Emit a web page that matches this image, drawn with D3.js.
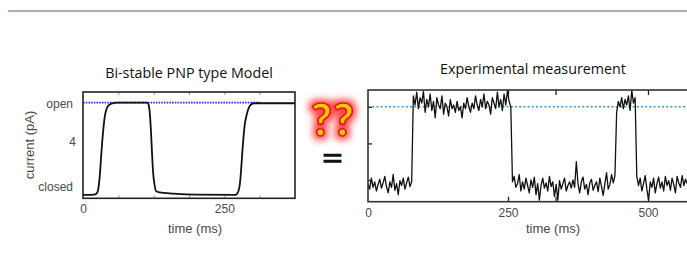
<!DOCTYPE html>
<html>
<head>
<meta charset="utf-8">
<script src="https://cdn.jsdelivr.net/npm/d3@7"></script>
<style>
  html, body { margin: 0; padding: 0; background: #fff; }
  svg { display: block; }
</style>
</head>
<body>
<svg id="chart" width="687" height="275"></svg>
<script>
// ---------------- DATA ----------------
// Left panel: bi-stable PNP model trace
const modelTime = [0, 20, 25, 28, 30, 32, 34, 36, 38, 40, 43, 47, 52, 60, 113, 116, 118, 120, 122, 124, 126, 129, 135, 160, 200, 270, 272, 276, 278, 280, 282, 284, 286, 289, 292, 296, 302, 310, 375];
const modelCurrent = [-0.15, -0.13, 0.0, 0.6, 1.5, 2.8, 4.0, 5.0, 5.8, 6.3, 6.7, 6.9, 7.0, 7.05, 7.05, 6.9, 6.3, 5.0, 3.2, 1.6, 0.8, 0.15, 0.05, -0.05, -0.13, -0.15, -0.1, 0.3, 0.9, 2.0, 3.3, 4.4, 5.3, 6.0, 6.5, 6.85, 7.0, 7.0, 7.0];
const modelOpenLevel = 7.05;
const modelOpenLineEnd = 314;           // ms
const modelYTicks = [0.5, 4, 7];
const modelYTickLabels = ["closed", "4", "open"];
const modelXLabels = [0, 250];
const modelXMinor = [62.5, 125, 187.5, 250, 312.5];

// Right panel: experimental measurement, sampled every 3 ms from 0 to 570 ms
const expStep = 3;
const expClosed1 = [-0.10, -0.25, 0.05, -0.20, -0.05, -0.30, -0.12, 0.02, -0.22, -0.08, 0.10, -0.18, -0.35, -0.05, -0.20, 0.15, -0.28, -0.10, -0.40, -0.02, -0.15, 0.05, -0.25, -0.08, 0.08, -0.18, -0.05];
const expOpen1 = [2.30, 2.05, 2.40, 1.95, 2.25, 2.10, 2.42, 1.85, 2.20, 2.00,
                  2.35, 1.90, 2.15, 1.70, 2.25, 2.05, 1.95, 2.30, 1.80, 2.10,
                  2.00, 1.75, 2.20, 1.95, 2.05, 1.85, 2.15, 1.90, 2.00, 1.70,
                  2.10, 1.95, 2.25, 2.00, 1.85, 2.10, 1.95, 2.30, 2.05, 1.90,
                  2.20, 2.00, 2.35, 1.95, 2.15, 2.05, 1.80, 2.25, 2.10, 1.95,
                  2.40, 2.00, 2.20, 1.90, 2.35, 2.05, 2.44, 2.15, 2.00];
const expClosed2 = [-0.05, 0.10, -0.20, -0.10, 0.15, -0.30, -0.05, -0.25, 0.05, -0.15,
                    -0.35, 0.00, -0.20, 0.08, -0.40, -0.10, -0.55, -0.15, 0.05, -0.22,
                    -0.08, -0.30, 0.10, -0.18, -0.05, -0.45, -0.12, -0.55, -0.02, -0.25,
                    -0.10, 0.05, -0.30, -0.15, -0.05, -0.22, 0.00, -0.20, 0.50, -0.10,
                    -0.35, -0.05, 0.08, -0.25, -0.12, -0.40, -0.08, 0.02, -0.28, -0.15,
                    -0.05, -0.32, 0.05, -0.18, -0.42, -0.10, 0.20, -0.25, -0.12, 0.15, -0.08, 0.12];
const expOpen2 = [1.85, 2.15, 2.00, 2.25, 1.95, 2.20, 2.05, 2.30, 1.90, 2.45, 2.10, 2.25];
const expClosed3 = [0.10, -0.15, 0.05, -0.30, -0.10, 0.12, -0.25, -0.55, -0.05, -0.20,
                    0.05, -0.35, -0.10, 0.08, -0.22, -0.05, -0.30, 0.10, -0.15, -0.02,
                    -0.28, 0.05, -0.12, -0.35, 0.10, -0.08, -0.20, 0.12, -0.15, 0.02, -0.10];
const expOpenLevel = 2;
const expYTicks = [0, 1, 2];
const expXLabels = [0, 250, 500];
const expXTicks = [250, 335, 500];

const titles = ["Bi-stable PNP type Model", "Experimental measurement"];
const xTitle = "time (ms)";
const yTitle = "current (pA)";

// ---------------- DRAW ----------------
const svg = d3.select("#chart");
const defs = svg.append("defs");
const axisFont = "'Liberation Sans', Arial, Helvetica, sans-serif";
const titleFont = "'Open Sans', 'Noto Sans', sans-serif";
const grayText = "#4a4a4a";

// top decorative rule
svg.append("line").attr("x1", 8).attr("x2", 687).attr("y1", 11).attr("y2", 11)
  .attr("stroke", "#a3b2c9").attr("stroke-width", 2);

// ---- Left panel ----
const L = {x0: 83, x1: 295, y0: 92, y1: 198.3};
const xL = d3.scaleLinear().domain([0, 375]).range([L.x0, L.x1]);
const yL = d3.scaleLinear().domain([-0.42, 7.88]).range([L.y1, L.y0]);

const gL = svg.append("g");
gL.append("text").attr("x", 189).attr("y", 78).attr("text-anchor", "middle")
  .attr("font-family", titleFont).attr("font-size", 14.3).attr("fill", "#111").text(titles[0]);

// minor ticks (inside)
gL.append("g").attr("transform", `translate(0,${L.y1})`)
  .call(d3.axisBottom(xL).tickValues(modelXMinor).tickSize(-3).tickFormat(""))
  .call(g => { g.select(".domain").remove(); g.selectAll("line").attr("stroke", "#999"); });
gL.append("g").attr("transform", `translate(0,${L.y0})`)
  .call(d3.axisTop(xL).tickValues(modelXMinor).tickSize(-3).tickFormat(""))
  .call(g => { g.select(".domain").remove(); g.selectAll("line").attr("stroke", "#999"); });

// x labels
gL.append("g").attr("transform", `translate(0,${L.y1})`)
  .call(d3.axisBottom(xL).tickValues(modelXLabels).tickSize(0).tickPadding(6.5).tickFormat(d3.format("d")))
  .call(g => { g.select(".domain").remove();
    g.selectAll("text").attr("font-family", axisFont).attr("font-size", 12).attr("fill", grayText); });

// y labels
const yLabelMap = new Map(modelYTicks.map((v, i) => [v, modelYTickLabels[i]]));
gL.append("g").attr("transform", `translate(${L.x0},0)`)
  .call(d3.axisLeft(yL).tickValues(modelYTicks).tickSize(0).tickPadding(10).tickFormat(d => yLabelMap.get(d)))
  .call(g => { g.select(".domain").remove();
    g.selectAll("text").attr("font-family", axisFont).attr("font-size", 12).attr("fill", grayText);
    g.selectAll("text").filter(d => d === 4).attr("dx", 3); });

gL.append("text").attr("x", (L.x0 + 295) / 2 + 6).attr("y", 232.5).attr("text-anchor", "middle")
  .attr("font-family", axisFont).attr("font-size", 13).attr("fill", grayText).text(xTitle);
gL.append("text").attr("transform", `translate(34,145) rotate(-90)`).attr("text-anchor", "middle")
  .attr("font-family", axisFont).attr("font-size", 13).attr("fill", grayText).text(yTitle);

// blue open level line
gL.append("line").attr("x1", xL(0)).attr("x2", xL(modelOpenLineEnd))
  .attr("y1", yL(modelOpenLevel)).attr("y2", yL(modelOpenLevel))
  .attr("stroke", "#2b2bff").attr("stroke-width", 1.8).attr("stroke-dasharray", "1.6,1.1");

// model curve
const modelData = modelTime.map((t, i) => ({t, v: modelCurrent[i]}));
gL.append("path").datum(modelData)
  .attr("d", d3.line().x(d => xL(d.t)).y(d => yL(d.v)).curve(d3.curveMonotoneX))
  .attr("fill", "none").attr("stroke", "#111").attr("stroke-width", 1.8);

// frame
gL.append("rect").attr("x", L.x0).attr("y", L.y0).attr("width", L.x1 - L.x0).attr("height", L.y1 - L.y0)
  .attr("fill", "none").attr("stroke", "#222").attr("stroke-width", 1.6);

// ---- Right panel ----
const R = {x0: 368, x1: 700, y0: 90, y1: 201.7};
const xR = d3.scaleLinear().domain([0, 570]).range([R.x0, R.x0 + 570 * 0.56]);
const yR = d3.scaleLinear().domain([-0.593, 2.46]).range([R.y1, R.y0]);

const gR = svg.append("g");
gR.append("text").attr("x", 533).attr("y", 74).attr("text-anchor", "middle")
  .attr("font-family", titleFont).attr("font-size", 14.3).attr("fill", "#111").text(titles[1]);

gR.append("g").attr("transform", `translate(0,${R.y1})`)
  .call(d3.axisBottom(xR).tickValues(expXTicks).tickSize(-5).tickFormat(""))
  .call(g => { g.select(".domain").remove(); g.selectAll("line").attr("stroke", "#222").attr("stroke-width", 1.3); });
gR.append("g").attr("transform", `translate(0,${R.y0})`)
  .call(d3.axisTop(xR).tickValues(expXTicks).tickSize(-5).tickFormat(""))
  .call(g => { g.select(".domain").remove(); g.selectAll("line").attr("stroke", "#222").attr("stroke-width", 1.3); });
gR.append("g").attr("transform", `translate(${R.x0},0)`)
  .call(d3.axisLeft(yR).tickValues(expYTicks).tickSize(-4).tickFormat(""))
  .call(g => { g.select(".domain").remove(); g.selectAll("line").attr("stroke", "#222").attr("stroke-width", 1.3); });

gR.append("g").attr("transform", `translate(0,${R.y1})`)
  .call(d3.axisBottom(xR).tickValues(expXLabels).tickSize(0).tickPadding(7).tickFormat(d3.format("d")))
  .call(g => { g.select(".domain").remove();
    g.selectAll("text").attr("font-family", axisFont).attr("font-size", 12).attr("fill", grayText); });
gR.append("text").attr("x", 553).attr("y", 232.5).attr("text-anchor", "middle")
  .attr("font-family", axisFont).attr("font-size", 13).attr("fill", grayText).text(xTitle);

// open-level dotted line
gR.append("line").attr("x1", R.x0).attr("x2", 687)
  .attr("y1", yR(expOpenLevel)).attr("y2", yR(expOpenLevel))
  .attr("stroke", "#3f95d3").attr("stroke-width", 1.5).attr("stroke-dasharray", "2,2.2");

// trace
const expCurrent = [].concat(expClosed1, expOpen1, expClosed2, expOpen2, expClosed3);
const expData = expCurrent.map((v, i) => ({t: i * expStep, v}));
defs.append("clipPath").attr("id", "clipR").append("rect")
  .attr("x", R.x0).attr("y", R.y0).attr("width", R.x1 - R.x0).attr("height", R.y1 - R.y0);
gR.append("path").datum(expData).attr("clip-path", "url(#clipR)")
  .attr("d", d3.line().x(d => xR(d.t)).y(d => yR(d.v)))
  .attr("fill", "none").attr("stroke", "#111").attr("stroke-width", 1.3).attr("stroke-linejoin", "round");

gR.append("rect").attr("x", R.x0).attr("y", R.y0).attr("width", R.x1 - R.x0).attr("height", R.y1 - R.y0)
  .attr("fill", "none").attr("stroke", "#333").attr("stroke-width", 1.6);

// ---- "??" and "=" ----
const glow = defs.append("filter").attr("id", "glow").attr("x", "-50%").attr("y", "-50%")
  .attr("width", "200%").attr("height", "200%").attr("color-interpolation-filters", "sRGB");
glow.append("feMorphology").attr("in", "SourceAlpha").attr("operator", "dilate").attr("radius", 2.5).attr("result", "dil");
glow.append("feGaussianBlur").attr("in", "dil").attr("stdDeviation", 3.5).attr("result", "blur");
glow.append("feFlood").attr("flood-color", "#ff1a1a").attr("flood-opacity", 0.8);
glow.append("feComposite").attr("in2", "blur").attr("operator", "in").attr("result", "redglow");
const merge = glow.append("feMerge");
merge.append("feMergeNode").attr("in", "redglow");
merge.append("feMergeNode").attr("in", "SourceGraphic");

svg.append("text").attr("x", 333).attr("y", 136).attr("text-anchor", "middle")
  .attr("font-family", "Lato, 'Open Sans', sans-serif").attr("font-weight", 900).attr("font-size", 45)
  .attr("letter-spacing", 1)
  .attr("fill", "#f9c800").attr("stroke", "#e4161b").attr("stroke-width", 1.6)
  .attr("filter", "url(#glow)").text("??");

svg.append("text").attr("transform", "translate(332.5,165.8) scale(1.55,1)").attr("text-anchor", "middle")
  .attr("font-family", axisFont).attr("font-weight", 700).attr("font-size", 22)
  .attr("fill", "#111").attr("stroke", "#111").attr("stroke-width", 0.5).text("=");
</script>
</body>
</html>
